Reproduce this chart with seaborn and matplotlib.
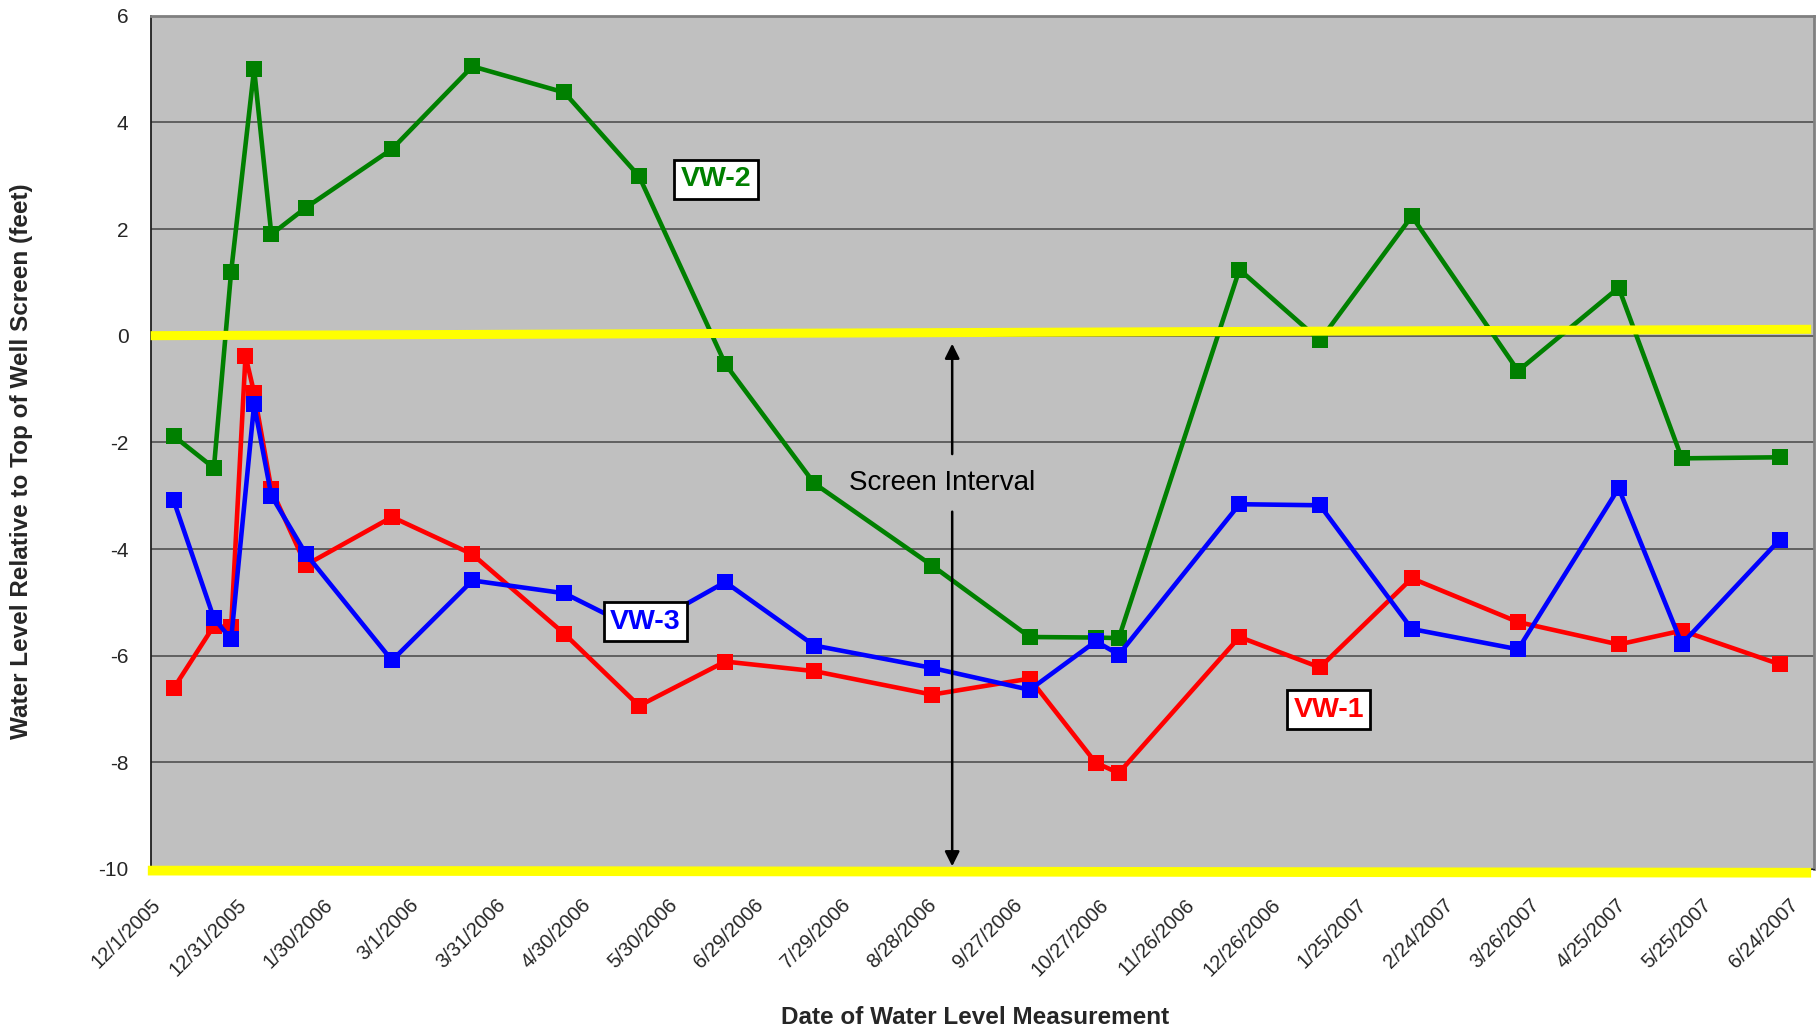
import numpy as np
import pandas as pd
import matplotlib
matplotlib.use("Agg")
import matplotlib.pyplot as plt
import matplotlib.dates as mdates
import seaborn as sns

# ---------------- data ----------------
dates_vw1 = ["2005-12-09", "2005-12-23", "2005-12-29", "2006-01-03", "2006-01-06",
             "2006-01-12", "2006-01-24", "2006-02-23", "2006-03-23", "2006-04-24",
             "2006-05-20", "2006-06-19", "2006-07-20", "2006-08-30", "2006-10-03",
             "2006-10-26", "2006-11-03", "2006-12-15", "2007-01-12", "2007-02-13",
             "2007-03-22", "2007-04-26", "2007-05-18", "2007-06-21"]
vw1 = [-6.61, -5.44, -5.47, -0.38, -1.07, -2.88, -4.30, -3.40, -4.10, -5.59,
       -6.94, -6.11, -6.29, -6.73, -6.43, -8.01, -8.20, -5.65, -6.22, -4.55,
       -5.37, -5.79, -5.53, -6.16]

dates_vw23 = ["2005-12-09", "2005-12-23", "2005-12-29", "2006-01-06",
              "2006-01-12", "2006-01-24", "2006-02-23", "2006-03-23", "2006-04-24",
              "2006-05-20", "2006-06-19", "2006-07-20", "2006-08-30", "2006-10-03",
              "2006-10-26", "2006-11-03", "2006-12-15", "2007-01-12", "2007-02-13",
              "2007-03-22", "2007-04-26", "2007-05-18", "2007-06-21"]
vw2 = [-1.88, -2.48, 1.20, 5.00, 1.90, 2.40, 3.50, 5.05, 4.56, 2.99,
       -0.53, -2.77, -4.31, -5.65, -5.66, -5.67, 1.24, -0.09, 2.24, -0.66,
       0.90, -2.30, -2.28]
vw3 = [-3.09, -5.30, -5.69, -1.29, -3.00, -4.09, -6.09, -4.59, -4.83, -5.53,
       -4.62, -5.81, -6.23, -6.64, -5.73, -5.98, -3.16, -3.18, -5.50, -5.88,
       -2.86, -5.78, -3.83]

x_tick_labels = ["12/1/2005", "12/31/2005", "1/30/2006", "3/1/2006", "3/31/2006",
                 "4/30/2006", "5/30/2006", "6/29/2006", "7/29/2006", "8/28/2006",
                 "9/27/2006", "10/27/2006", "11/26/2006", "12/26/2006", "1/25/2007",
                 "2/24/2007", "3/26/2007", "4/25/2007", "5/25/2007", "6/24/2007"]
y_ticks = [-10, -8, -6, -4, -2, 0, 2, 4, 6]
y_tick_labels = ["-10", "-8", "-6", "-4", "-2", "0", "2", "4", "6"]
x_end = "2007-07-03"

# screen interval (yellow bands) levels, left -> right
screen_top = [0.0, 0.12]
screen_bottom = [-10.03, -10.07]

series_names = ["VW-1", "VW-2", "VW-3"]
series_colors = ["#FF0000", "#008000", "#0000FF"]

# ---------------- figure ----------------
sns.set_style("white")
plt.rcParams["font.family"] = ["Liberation Sans", "DejaVu Sans"]
plt.rcParams["axes.unicode_minus"] = False

W, H = 1820, 1033
fig = plt.figure(figsize=(W / 100, H / 100), dpi=100)
ax = fig.add_axes([150.7 / W, 1 - 869 / H, (1814 - 150.7) / W, (869 - 15.7) / H])
ax.set_facecolor("#C0C0C0")

d1 = pd.to_datetime(dates_vw1)
d23 = pd.to_datetime(dates_vw23)
ticks = pd.to_datetime(x_tick_labels, format="%m/%d/%Y")
x0 = ticks[0]
x1 = pd.Timestamp(x_end)

line_kw = dict(marker="s", markersize=11, markeredgewidth=0, linewidth=3.3,
               estimator=None, sort=False, legend=False)
sns.lineplot(x=d1, y=vw1, ax=ax, color=series_colors[0], zorder=3, **line_kw)
sns.lineplot(x=d23, y=vw2, ax=ax, color=series_colors[1], zorder=4, **line_kw)
sns.lineplot(x=d23, y=vw3, ax=ax, color=series_colors[2], zorder=5, **line_kw)

ax.set_xlim(x0, x1)
ax.set_ylim(-10, 6)
ax.set_yticks(y_ticks)
ax.set_yticklabels(y_tick_labels, fontsize=15)
ax.set_xticks(ticks)
ax.set_xticklabels(x_tick_labels, fontsize=14.5, rotation=45, ha="right",
                   va="top", rotation_mode="anchor")
ax.tick_params(axis="x", direction="out", length=5, width=1, color="#808080", pad=14)
ax.tick_params(axis="y", direction="out", length=6, width=1, color="#808080", pad=10)

ax.yaxis.grid(True, color="#505050", linewidth=1.2)
ax.xaxis.grid(False)
ax.set_axisbelow(True)
for side in ["top", "right"]:
    ax.spines[side].set_color("#808080")
    ax.spines[side].set_linewidth(2)
ax.spines["left"].set_color("#202020")
ax.spines["left"].set_linewidth(1.3)
ax.spines["bottom"].set_color("#202020")

ax.set_xlabel("Date of Water Level Measurement", fontsize=17.5, fontweight="bold")
ax.xaxis.set_label_coords(0.4956, -0.160)
ax.xaxis.label.set_va("top")
ax.set_ylabel("Water Level Relative to Top of Well Screen (feet)", fontsize=17.5,
              fontweight="bold")
ax.yaxis.set_label_coords(-0.071, 0.4777)

# yellow screen-interval lines
yl_end = x0 + pd.Timedelta(days=578)
ax.plot([x0, yl_end], screen_top, color="#FFFF00", linewidth=6.5,
        solid_capstyle="butt", zorder=6, clip_on=False)
ax.plot([x0 - pd.Timedelta(days=1), yl_end], screen_bottom, color="#FFFF00",
        linewidth=7, solid_capstyle="butt", zorder=6, clip_on=False)

# screen interval arrow
xa = x0 + pd.Timedelta(days=279)
ax.annotate("", xy=(xa, -0.15), xytext=(xa, -2.22),
            arrowprops=dict(arrowstyle="-|>", color="black", lw=1.8,
                            mutation_scale=22, shrinkA=0, shrinkB=0), zorder=7)
ax.annotate("", xy=(xa, -9.95), xytext=(xa, -3.30),
            arrowprops=dict(arrowstyle="-|>", color="black", lw=1.8,
                            mutation_scale=22, shrinkA=0, shrinkB=0), zorder=7)
ax.text(x0 + pd.Timedelta(days=275.6), -2.77, "Screen Interval", fontsize=20,
        ha="center", va="center", color="black", zorder=7)

# series labels
label_pos = [(410.1, -7.01), (196.8, 2.93), (172.1, -5.36)]
for name, col, (dd, yy) in zip(series_names, series_colors, label_pos):
    ax.text(x0 + pd.Timedelta(days=dd), yy, name, fontsize=20.5, fontweight="bold",
            color=col, ha="center", va="center", zorder=8,
            bbox=dict(boxstyle="square,pad=0.22", facecolor="white",
                      edgecolor="black", linewidth=2))

fig.savefig("out.png", dpi=100)
